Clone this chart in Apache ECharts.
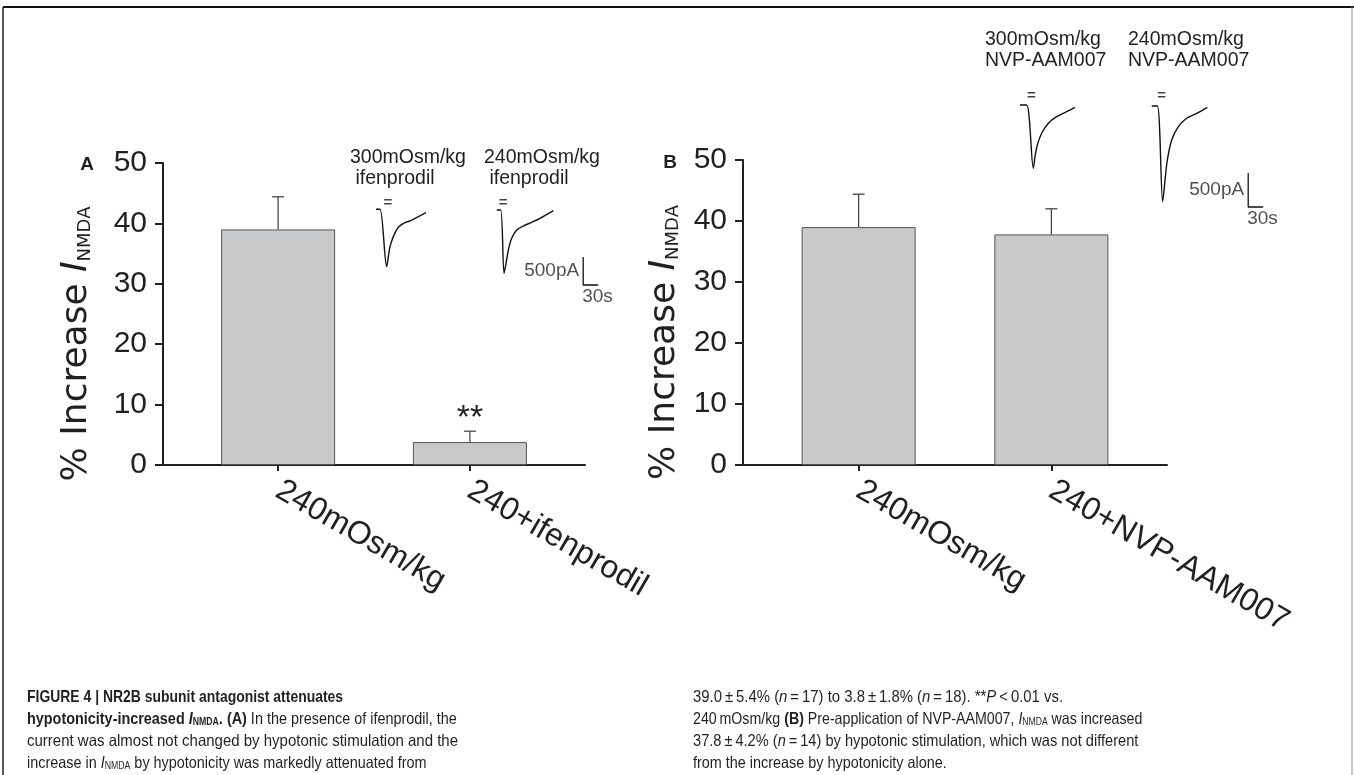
<!DOCTYPE html>
<html><head><meta charset="utf-8">
<script src="https://cdn.jsdelivr.net/npm/echarts@6.0.0/dist/echarts.min.js"></script>
<style>html,body{margin:0;padding:0;background:#fff}#c{width:1354px;height:775px}</style>
</head><body><div id="c"></div>
<script>
// ---------- bar data ----------
const catsA = ['240mOsm/kg', '240+ifenprodil'];
const meanA = [39.0, 3.8];
const semA = [5.4, 1.8];
const sigA = ['', '**'];
const catsB = ['240mOsm/kg', '240+NVP-AAM007'];
const meanB = [39.0, 37.8];
const semB = [5.4, 4.2];
const sigB = ['', ''];
const yMin = 0, yMax = 50, yStep = 10;

// ---------- inset current traces (time in s, current in pA) ----------
const trA1_t  = [0, 8, 21.3, 24.7, 28, 34.7, 44.7, 58, 68, 100];
const trA1_pA = [0, 0, -1024, -845, -667, -488, -321, -238, -208, -60];
const trA2_t  = [0, 8, 14.7, 18.7, 23.3, 30, 40, 53.3, 70, 86.7, 113.3];
const trA2_pA = [0, 0, -1131, -952, -714, -506, -357, -286, -220, -149, -12];
const trB1_t  = [0, 13.3, 26.7, 30, 34.7, 43.3, 56.7, 73.3, 93.3, 110];
const trB1_pA = [0, 0, -931, -760, -588, -416, -269, -172, -98, -34];
const trB2_t  = [0, 11.3, 22, 26.7, 31.3, 40, 53.3, 70, 90, 111.3];
const trB2_pA = [0, 0, -1406, -1088, -794, -500, -304, -181, -108, -20];
// drug application markers (time, current)
const stimA1 = [24, 110], stimA2 = [13, 125], stimB1 = [23, 132], stimB2 = [20, 147];
// scale bars: 500 pA, 30 s; anchor (time, current of top end)
const scalePA = 500, scaleS = 30;
const scaleAnchorA = [173, -839], scaleAnchorB = [193, -985];
const insetTitlesA = ['300mOsm/kg\n ifenprodil', '240mOsm/kg\n ifenprodil'];
const insetTitlesB = ['300mOsm/kg\nNVP-AAM007', '240mOsm/kg\nNVP-AAM007'];

const zip = (a, b) => a.map((v, i) => [v, b[i]]);
const INK = '#231f20';
const FONT = "'DejaVu Sans', sans-serif";
const ARIAL = "'Liberation Sans', Arial, sans-serif";
const CAPF = "'Liberation Sans', Arial, sans-serif";

const chart = echarts.init(document.getElementById('c'), null, {renderer: 'canvas'});

function insetGrid(ox, oy, sPerPx, pAPerPx) {
  const tMax = 240, iMin = -1600, iMax = 300;
  return {left: ox, top: oy - iMax / pAPerPx, width: tMax / sPerPx, height: (iMax - iMin) / pAPerPx};
}

const grids = [
  {left: 163, top: 163, width: 422, height: 302},
  {left: 743, top: 160, width: 424, height: 305},
  insetGrid(376, 209.3, 2, 500 / 28),
  insetGrid(496.7, 210, 2, 500 / 28),
  insetGrid(1020, 105, 2, 500 / 34),
  insetGrid(1151.7, 106, 2, 500 / 34)
];

function mainX(idx, cats) {
  return {
    type: 'value', gridIndex: idx, min: -0.6, max: 1.6,
    axisLine: {show: true, onZero: false, lineStyle: {color: INK, width: 2}},
    axisTick: {show: true, customValues: [0, 1], length: 6, lineStyle: {color: INK, width: 2}},
    axisLabel: {customValues: [0, 1], rotate: -30, margin: 23, color: INK, fontFamily: ARIAL, fontSize: 32,
      formatter: v => cats[Math.round(v)]},
    splitLine: {show: false}
  };
}
function mainY(idx, gap) {
  return {
    type: 'value', gridIndex: idx, min: yMin, max: yMax, interval: yStep,
    axisLine: {show: true, onZero: false, lineStyle: {color: INK, width: 2}},
    axisTick: {show: true, length: 8, lineStyle: {color: INK, width: 2}},
    axisLabel: {margin: 16, color: INK, fontFamily: ARIAL, fontSize: 30},
    splitLine: {show: false},
    name: '{t|% Increase }{i|I}{s|NMDA}', nameLocation: 'middle', nameRotate: 90, nameGap: gap,
    nameTextStyle: {color: INK, padding: [0, 60, 0, 0], rich: {
      t: {fontFamily: FONT, fontSize: 36, color: INK},
      i: {fontFamily: FONT, fontSize: 36, fontStyle: 'italic', color: INK},
      s: {fontFamily: FONT, fontSize: 18, color: INK, padding: [16, 0, 0, 0]}
    }}
  };
}
const hiddenX = i => ({type: 'value', gridIndex: i, min: 0, max: 240, show: false});
const hiddenY = i => ({type: 'value', gridIndex: i, min: -1600, max: 300, show: false});

function barSeries(i, means) {
  return {type: 'bar', xAxisIndex: i, yAxisIndex: i, barWidth: 114,
    data: means.map((m, k) => [k, m]),
    itemStyle: {color: '#c8c9cb', borderColor: '#555', borderWidth: 1}};
}
function errSeries(i, means, sems, sig) {
  return {type: 'custom', xAxisIndex: i, yAxisIndex: i,
    data: means.map((m, k) => [k, m, sems[k]]),
    renderItem: (params, api) => {
      const x = api.value(0), m = api.value(1), e = api.value(2);
      const p0 = api.coord([x, m]), p1 = api.coord([x, m + e]);
      const st = {stroke: '#3a3a3a', lineWidth: 1.2};
      const ch = [
        {type: 'line', shape: {x1: p0[0], y1: p0[1], x2: p1[0], y2: p1[1]}, style: st},
        {type: 'line', shape: {x1: p1[0] - 6, y1: p1[1], x2: p1[0] + 6, y2: p1[1]}, style: st}
      ];
      const s = sig[params.dataIndex];
      if (s) ch.push({type: 'text', x: p1[0], y: p1[1] + 4,
        style: {text: s, align: 'center', verticalAlign: 'bottom', fontFamily: ARIAL, fontSize: 34, fill: INK}});
      return {type: 'group', children: ch};
    }};
}
function traceSeries(i, t, pA) {
  return {type: 'line', xAxisIndex: i, yAxisIndex: i, data: zip(t, pA), symbol: 'none', smooth: 0.3,
    lineStyle: {color: '#111', width: 1.4}, clip: false, silent: true};
}
function stimSeries(i, pt) {
  return {type: 'scatter', xAxisIndex: i, yAxisIndex: i, data: [pt], symbolSize: 0.1,
    itemStyle: {color: 'transparent'},
    label: {show: true, position: 'inside', formatter: '=', fontFamily: ARIAL, fontSize: 15, fontWeight: 'bold', color: '#111'}};
}
function scaleSeries(i, anc) {
  const top = anc, bot = [anc[0], anc[1] - scalePA], right = [anc[0] + scaleS, anc[1] - scalePA];
  return [
    {type: 'line', xAxisIndex: i, yAxisIndex: i, data: [top, bot, right], symbol: 'none',
      lineStyle: {color: '#111', width: 1.3}},
    {type: 'scatter', xAxisIndex: i, yAxisIndex: i, data: [[anc[0], anc[1] - scalePA / 2]], symbolSize: 0.1,
      itemStyle: {color: 'transparent'},
      label: {show: true, position: 'left', distance: 4, formatter: scalePA + 'pA', fontFamily: ARIAL, fontSize: 19, color: INK}},
    {type: 'scatter', xAxisIndex: i, yAxisIndex: i, data: [bot], symbolSize: 0.1,
      itemStyle: {color: 'transparent'},
      label: {show: true, position: 'bottom', align: 'left', distance: 2, offset: [-1, 0], formatter: scaleS + 's', fontFamily: ARIAL, fontSize: 19, color: INK}}
  ];
}

const insetText = (x, y, txt) => ({type: 'text', x: x, y: y,
  style: {text: txt, fontFamily: ARIAL, fontSize: 19.5, lineHeight: 21, fill: INK, align: 'left', verticalAlign: 'middle'}});

const CS = 16.5;
const capRich = {
  r: {fontFamily: CAPF, fontSize: CS, fill: INK},
  b: {fontFamily: CAPF, fontSize: CS, fontWeight: 'bold', fill: INK},
  i: {fontFamily: CAPF, fontSize: CS, fontStyle: 'italic', fill: INK},
  bi: {fontFamily: CAPF, fontSize: CS, fontWeight: 'bold', fontStyle: 'italic', fill: INK},
  s: {fontFamily: CAPF, fontSize: 10, fill: INK, padding: [6, 0, 0, 0]},
  bs: {fontFamily: CAPF, fontSize: 10, fontWeight: 'bold', fill: INK, padding: [6, 0, 0, 0]}
};
const capLeft = [
  '{b|FIGURE 4 | NR2B subunit antagonist attenuates}',
  '{b|hypotonicity-increased }{bi|I}{bs|NMDA}{b|. (A)}{r| In the presence of ifenprodil, the}',
  '{r|current was almost not changed by hypotonic stimulation and the}',
  '{r|increase in }{i|I}{s|NMDA}{r| by hypotonicity was markedly attenuated from}'
];
const capRight = [
  '{r|39.0\u2009±\u20095.4% (}{i|n}{r|\u2009=\u200917) to 3.8\u2009±\u20091.8% (}{i|n}{r|\u2009=\u200918). **}{i|P}{r|\u2009<\u20090.01 vs.}',
  '{r|240\u2009mOsm/kg }{b|(B)}{r| Pre-application of NVP-AAM007, }{i|I}{s|NMDA}{r| was increased}',
  '{r|37.8\u2009±\u20094.2% (}{i|n}{r|\u2009=\u200914) by hypotonic stimulation, which was not different}',
  '{r|from the increase by hypotonicity alone.}'
];
const capScaleL = [0.845, 0.873, 0.909, 0.873];
const capScaleR = [0.902, 0.86, 0.887, 0.873];
const capY = [697, 719, 741, 763];
const capEls = [];
capLeft.forEach((t, k) => capEls.push({type: 'text', x: 27, y: capY[k], scaleX: capScaleL[k], style: {text: t, rich: capRich, verticalAlign: 'middle'}}));
capRight.forEach((t, k) => capEls.push({type: 'text', x: 693, y: capY[k], scaleX: capScaleR[k], style: {text: t, rich: capRich, verticalAlign: 'middle'}}));

const option = {
  animation: false,
  backgroundColor: '#fff',
  grid: grids,
  xAxis: [mainX(0, catsA), mainX(1, catsB), hiddenX(2), hiddenX(3), hiddenX(4), hiddenX(5)],
  yAxis: [mainY(0, 68), mainY(1, 60), hiddenY(2), hiddenY(3), hiddenY(4), hiddenY(5)],
  series: [
    barSeries(0, meanA), errSeries(0, meanA, semA, sigA),
    barSeries(1, meanB), errSeries(1, meanB, semB, sigB),
    traceSeries(2, trA1_t, trA1_pA), stimSeries(2, stimA1),
    traceSeries(3, trA2_t, trA2_pA), stimSeries(3, stimA2), ...scaleSeries(3, scaleAnchorA),
    traceSeries(4, trB1_t, trB1_pA), stimSeries(4, stimB1),
    traceSeries(5, trB2_t, trB2_pA), stimSeries(5, stimB2), ...scaleSeries(5, scaleAnchorB)
  ],
  graphic: [
    {type: 'line', shape: {x1: 3, y1: 7, x2: 1354, y2: 7}, style: {stroke: '#111', lineWidth: 2}},
    {type: 'line', shape: {x1: 3, y1: 7, x2: 3, y2: 775}, style: {stroke: '#222', lineWidth: 1.5}},
    {type: 'line', shape: {x1: 1352, y1: 7, x2: 1352, y2: 775}, style: {stroke: '#999', lineWidth: 1}},
    {type: 'text', x: 87, y: 165, style: {text: 'A', fontFamily: ARIAL, fontWeight: 'bold', fontSize: 19, fill: INK, align: 'center', verticalAlign: 'middle'}},
    {type: 'text', x: 670, y: 163, style: {text: 'B', fontFamily: ARIAL, fontWeight: 'bold', fontSize: 19, fill: INK, align: 'center', verticalAlign: 'middle'}},
    insetText(350, 168, insetTitlesA[0]),
    insetText(484, 168, insetTitlesA[1]),
    insetText(985, 50, insetTitlesB[0]),
    insetText(1128, 50, insetTitlesB[1]),
    ...capEls
  ]
};
chart.setOption(option);
</script>
</body></html>
